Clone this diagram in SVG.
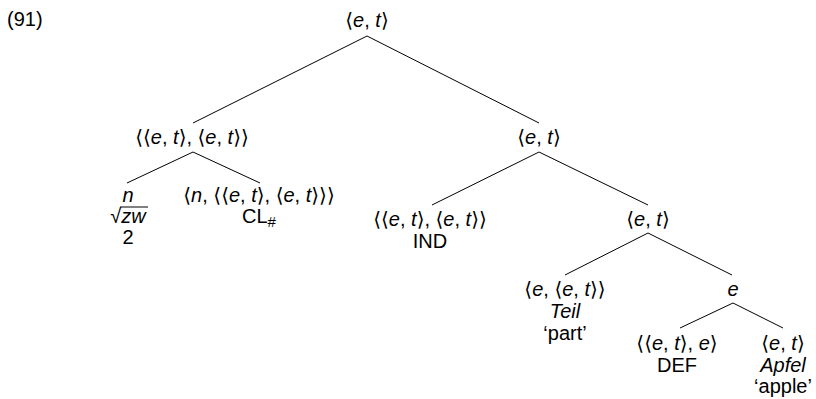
<svg xmlns="http://www.w3.org/2000/svg" width="816" height="399" viewBox="0 0 816 399">
<style>
text{font-family:"Liberation Sans","DejaVu Sans",sans-serif;font-size:20px;fill:#000;text-anchor:middle}
.i{font-style:italic}
.num{text-anchor:start}
line{stroke:#000;stroke-width:1}
</style>
<rect width="816" height="399" fill="#fff"/>
<text class="num" x="7" y="26">(91)</text>
<g id="edges">
<line x1="367" y1="36" x2="193" y2="123"/>
<line x1="367" y1="36" x2="539" y2="123"/>
<line x1="193" y1="152" x2="127" y2="183"/>
<line x1="193" y1="152" x2="260" y2="183"/>
<line x1="539" y1="152" x2="432" y2="205"/>
<line x1="539" y1="152" x2="648" y2="205"/>
<line x1="648" y1="233" x2="565" y2="275"/>
<line x1="648" y1="233" x2="732" y2="275"/>
<line x1="733" y1="303" x2="680" y2="328"/>
<line x1="733" y1="303" x2="783" y2="328"/>
</g>
<g id="root"><text x="367" y="27">⟨<tspan class="i">e</tspan>, <tspan class="i">t</tspan>⟩</text></g>
<g id="n1"><text x="192" y="144">⟨⟨<tspan class="i">e</tspan>, <tspan class="i">t</tspan>⟩, ⟨<tspan class="i">e</tspan>, <tspan class="i">t</tspan>⟩⟩</text></g>
<g id="n2"><text x="539" y="144">⟨<tspan class="i">e</tspan>, <tspan class="i">t</tspan>⟩</text></g>
<g id="n3">
<text x="128" y="202" class="i">n</text>
<text x="128" y="223">√<tspan class="i">zw</tspan></text>
<line x1="120" y1="207" x2="148" y2="207"/>
<text x="128" y="244">2</text>
</g>
<g id="n4">
<text x="259" y="202">⟨<tspan class="i">n</tspan>, ⟨⟨<tspan class="i">e</tspan>, <tspan class="i">t</tspan>⟩, ⟨<tspan class="i">e</tspan>, <tspan class="i">t</tspan>⟩⟩⟩</text>
<text x="259" y="223">CL<tspan font-size="15" dy="4">#</tspan></text>
</g>
<g id="n5">
<text x="430" y="226">⟨⟨<tspan class="i">e</tspan>, <tspan class="i">t</tspan>⟩, ⟨<tspan class="i">e</tspan>, <tspan class="i">t</tspan>⟩⟩</text>
<text x="430" y="248">IND</text>
</g>
<g id="n6"><text x="648" y="226">⟨<tspan class="i">e</tspan>, <tspan class="i">t</tspan>⟩</text></g>
<g id="n7">
<text x="565" y="296">⟨<tspan class="i">e</tspan>, ⟨<tspan class="i">e</tspan>, <tspan class="i">t</tspan>⟩⟩</text>
<text x="565" y="318" class="i">Teil</text>
<text x="565" y="340">‘part’</text>
</g>
<g id="n8"><text x="733" y="296" class="i">e</text></g>
<g id="n9">
<text x="677" y="350">⟨⟨<tspan class="i">e</tspan>, <tspan class="i">t</tspan>⟩, <tspan class="i">e</tspan>⟩</text>
<text x="677" y="372">DEF</text>
</g>
<g id="n10">
<text x="783" y="350">⟨<tspan class="i">e</tspan>, <tspan class="i">t</tspan>⟩</text>
<text x="783" y="372" class="i">Apfel</text>
<text x="783" y="393">‘apple’</text>
</g>
</svg>
